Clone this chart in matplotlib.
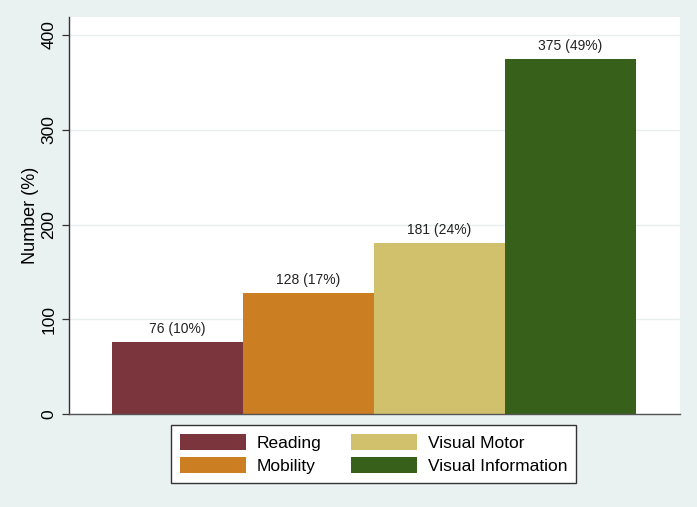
import matplotlib
matplotlib.use("Agg")
import matplotlib.pyplot as plt
from matplotlib.patches import Patch

plt.rcParams["font.family"] = ["Liberation Sans", "DejaVu Sans"]

BG = "#eaf1f1"
GRID = "#e6eeee"

categories = ["Reading", "Mobility", "Visual Motor", "Visual Information"]
counts = [76, 128, 181, 375]
percents = [10, 17, 24, 49]
colors = ["#7b353c", "#cc7e22", "#d1c06c", "#37611a"]

fig = plt.figure(figsize=(6.97, 5.07), dpi=100, facecolor=BG)
ax = fig.add_axes([69 / 697, 1 - 414 / 507, (680 - 69) / 697, (414 - 17) / 507])
ax.set_facecolor("white")

x = range(len(categories))
ax.bar(x, counts, width=1.0, color=colors, linewidth=0, zorder=2)
for xi, c, p in zip(x, counts, percents):
    ax.text(xi, c + 6, f"{c} ({p}%)", ha="center", va="bottom", fontsize=10, color="#222222")

ax.set_xlim(-0.828, 3.836)
ax.set_ylim(0, 419)
ax.set_yticks([0, 100, 200, 300, 400])
ax.set_yticklabels(["0", "100", "200", "300", "400"], rotation=90, va="center", fontsize=12.5)
ax.set_xticks([])
ax.yaxis.grid(True, color=GRID, lw=1, zorder=0)
ax.tick_params(axis="y", length=5, width=0.9, color="#333333", pad=4)
ax.set_ylabel("Number (%)", fontsize=13, labelpad=2)
for s in ("top", "right"):
    ax.spines[s].set_visible(False)
ax.spines["left"].set_color("#333333")
ax.spines["left"].set_linewidth(1.0)
ax.spines["bottom"].set_color("#555555")
ax.spines["bottom"].set_linewidth(1.0)

handles = [Patch(facecolor=c, edgecolor="none") for c in colors]
leg = fig.legend(handles, categories, ncol=2, loc="center",
                 bbox_to_anchor=(373.5 / 697, 1 - 454 / 507), fontsize=12.5,
                 fancybox=False, framealpha=1, edgecolor="#333333",
                 handlelength=3.8, handleheight=1.03, handletextpad=0.63,
                 columnspacing=1.67, labelspacing=0.35, borderpad=0.5)
leg.get_frame().set_linewidth(1.0)

fig.savefig("out.png", dpi=100, facecolor=BG)
